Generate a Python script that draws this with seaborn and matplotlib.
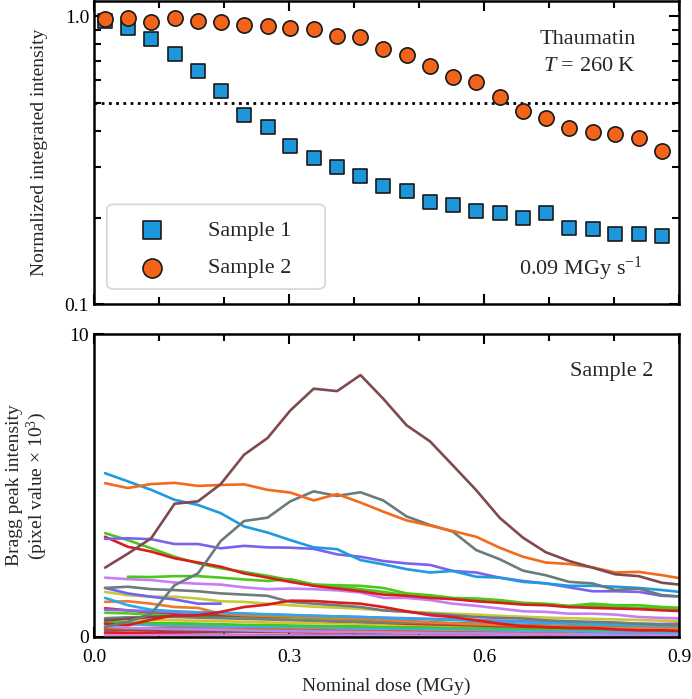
import numpy as np
import pandas as pd
import matplotlib
matplotlib.use("Agg")
import matplotlib.pyplot as plt
import seaborn as sns
from matplotlib.ticker import MultipleLocator, NullFormatter, FixedLocator
from matplotlib.patches import FancyBboxPatch

# ---------------- data ----------------
dose = [0.017, 0.052, 0.088, 0.124, 0.160, 0.195, 0.231, 0.267, 0.302, 0.338,
        0.374, 0.410, 0.445, 0.481, 0.517, 0.552, 0.588, 0.624, 0.660, 0.695,
        0.731, 0.767, 0.802, 0.838, 0.874]
dose_b = dose + [0.910]

sample1 = [0.961, 0.911, 0.833, 0.737, 0.645, 0.550, 0.454, 0.412, 0.355, 0.321,
           0.300, 0.278, 0.258, 0.247, 0.226, 0.221, 0.211, 0.207, 0.200, 0.207,
           0.184, 0.183, 0.176, 0.176, 0.172]
sample2 = [0.982, 0.987, 0.956, 0.989, 0.961, 0.956, 0.931, 0.926, 0.909, 0.904,
           0.857, 0.848, 0.769, 0.733, 0.670, 0.615, 0.591, 0.526, 0.469, 0.442,
           0.411, 0.398, 0.389, 0.377, 0.341]
half_level = 0.5

# Bragg peak intensities (pixel value x 10^3), Sample 2
peak_brown = [2.29, 2.75, 3.26, 4.40, 4.48, 5.05, 6.02, 6.57, 7.48, 8.20, 8.12, 8.65, 7.87,
              6.99, 6.46, 5.67, 4.85, 3.94, 3.28, 2.80, 2.51, 2.29, 2.07, 2.01, 1.79, 1.71]
peak_orange = [5.08, 4.92, 5.05, 5.09, 4.99, 5.02, 5.04, 4.86, 4.77, 4.51, 4.72, 4.44, 4.14,
               3.85, 3.68, 3.50, 3.31, 2.95, 2.65, 2.46, 2.41, 2.30, 2.13, 2.15, 2.04, 1.91]
peak_blue = [5.41, 5.14, 4.86, 4.53, 4.36, 4.09, 3.65, 3.45, 3.20, 2.96, 2.90, 2.54, 2.40,
             2.24, 2.13, 2.18, 1.99, 1.96, 1.82, 1.77, 1.69, 1.69, 1.66, 1.62, 1.55, 1.47]
peak_gray = [0.33, 0.50, 0.77, 1.71, 2.10, 3.17, 3.83, 3.94, 4.48, 4.81, 4.66, 4.78, 4.51,
             3.98, 3.70, 3.48, 2.87, 2.57, 2.19, 2.04, 1.82, 1.77, 1.55, 1.60, 1.38, 1.33]
peak_purple = [3.24, 3.26, 3.23, 3.07, 3.07, 2.93, 3.01, 2.96, 2.95, 2.91, 2.73, 2.65, 2.51,
               2.43, 2.38, 2.18, 2.13, 1.96, 1.85, 1.77, 1.64, 1.51, 1.51, 1.49, 1.36, 1.33]
peak_red = [3.31, 2.98, 2.82, 2.60, 2.46, 2.32, 2.10, 1.96, 1.82, 1.69, 1.60, 1.51, 1.40,
            1.36, 1.29, 1.25, 1.18, 1.13, 1.07, 1.05, 0.99, 0.96, 0.94, 0.92, 0.88, 0.85]
peak_green = [3.43, 3.20, 2.93, 2.65, 2.43, 2.27, 2.15, 2.02, 1.88, 1.73, 1.66, 1.58, 1.49,
              1.38, 1.33, 1.27, 1.22, 1.16, 1.10, 1.07, 0.99, 1.03, 0.99, 0.96, 0.94, 0.92]
peak_green2 = [None, 1.99, 1.98, 2.01, 2.01, 1.96, 1.90, 1.85, 1.91, 1.73, 1.71, 1.69, 1.62,
               1.44, 1.38, 1.29, 1.27, 1.22, 1.13, 1.10, 1.03, 1.10, 1.05, 1.05, 0.99, 0.96]
peak_violet = [1.96, 1.91, 1.88, 1.80, 1.76, 1.73, 1.64, 1.58, 1.60, 1.58, 1.54, 1.47, 1.29,
               1.29, 1.22, 1.10, 1.03, 0.94, 0.85, 0.83, 0.77, 0.77, 0.74, 0.66, 0.63, 0.61]
peak_red2 = [0.44, 0.39, 0.57, 0.72, 0.72, 0.83, 0.99, 1.07, 1.20, 1.19, 1.14, 1.10, 0.99,
             0.85, 0.72, 0.66, 0.55, 0.44, 0.36, 0.33, 0.30, 0.30, 0.25, 0.22, 0.22, 0.19]
peak_gray2 = [1.62, 1.66, 1.58, 1.55, 1.51, 1.44, 1.40, 1.36, 1.16, 1.10, 1.05, 0.99, 0.88,
              0.83, 0.77, 0.72, 0.66, 0.63, 0.61, 0.55, 0.52, 0.50, 0.48, 0.44, 0.41, 0.39]
peak_purple2 = [1.62, 1.44, 1.33, 1.24, 1.10, 1.10]
peak_olive = [1.49, 1.38, 1.33, 1.33, 1.27, 1.18, 1.16, 1.10, 1.05, 1.00, 0.97, 0.93, 0.88,
              0.84, 0.80, 0.77, 0.74, 0.70, 0.67, 0.64, 0.62, 0.60, 0.58, 0.56, 0.54, 0.52]
peak_cyan = [1.29, 1.05, 0.90, 0.85, 0.82, 0.80, 0.78, 0.75, 0.73, 0.70, 0.68, 0.66, 0.63,
             0.60, 0.58, 0.56, 0.53, 0.50, 0.48, 0.46, 0.44, 0.42, 0.40, 0.38, 0.37, 0.35]
peak_orange2 = [1.16, 1.18, 1.10, 0.99, 0.96, 0.77, 0.72, 0.70, 0.68, 0.65, 0.62, 0.60, 0.56,
                0.52, 0.48, 0.45, 0.42, 0.40, 0.38, 0.36, 0.34, 0.32, 0.30, 0.29, 0.28, 0.27]
peak_brown2 = [0.55, 0.60, 0.66, 0.70, 0.72, 0.72, 0.70, 0.68, 0.68, 0.66, 0.64, 0.60, 0.56,
               0.52, 0.48, 0.44, 0.40, 0.40, 0.38, 0.36, 0.34, 0.32, 0.30, 0.28, 0.27, 0.26]
peak_gray3 = [0.62, 0.65, 0.66, 0.66, 0.64, 0.62, 0.60, 0.58, 0.56, 0.54, 0.52, 0.50, 0.48,
              0.47, 0.46, 0.45, 0.44, 0.43]
peak_green3 = [0.80, 0.78, 0.74, 0.70, 0.67, 0.64, 0.62, 0.60, 0.62, 0.60, 0.58, 0.55, 0.52,
               0.50, 0.48, 0.46, 0.44, 0.42, 0.40, 0.38, 0.37, 0.36, 0.35, 0.34, 0.33, 0.32]
peak_teal = [0.40, 0.42, 0.45, 0.44, 0.42, 0.40, 0.38, 0.36, 0.34, 0.32, 0.30, 0.29, 0.28,
             0.27, 0.26, 0.25, 0.24, 0.23, 0.22, 0.21, 0.20, 0.19, 0.18, 0.17, 0.16, 0.15]
peak_purple3 = [0.90, 0.88, 0.85, 0.82, 0.80, 0.78, 0.76, 0.74, 0.72, 0.70, 0.68, 0.66, 0.64,
                0.62, 0.60, 0.58, 0.56, 0.54, 0.52, 0.50, 0.48, 0.46, 0.45, 0.44, 0.43, 0.42]
peak_red3 = [0.95, 0.88, 0.80, 0.75, 0.70, 0.66, 0.62, 0.60, 0.58, 0.55, 0.52, 0.50, 0.47,
             0.44, 0.42, 0.40, 0.38, 0.36, 0.34, 0.32, 0.30, 0.29, 0.28, 0.27, 0.26, 0.25]
peak_violet2 = [0.35, 0.30, 0.28, 0.26, 0.25, 0.24, 0.22, 0.20, 0.19, 0.18, 0.17, 0.16, 0.15,
                0.14, 0.13, 0.12, 0.12, 0.11, 0.10, 0.10, 0.09, 0.09, 0.08, 0.08, 0.07, 0.07]
peak_orange3 = [0.30, 0.28, 0.30, 0.32, 0.30, 0.28, 0.27, 0.26, 0.25, 0.25, 0.24, 0.22, 0.20,
                0.19, 0.18, 0.17, 0.16, 0.15, 0.14, 0.13, 0.13, 0.30, 0.28, 0.25, 0.22, 0.20]
peak_blue3 = [0.10, 0.12, 0.10, 0.09, 0.08, 0.08, 0.07, 0.07, 0.06, 0.06, 0.05, 0.05, 0.05,
              0.04, 0.04, 0.04, 0.04, 0.03, 0.03, 0.03, 0.03, 0.03, 0.02, 0.02, 0.02, 0.02]
peak_green5 = [0.50, 0.48, 0.46, 0.45, 0.44, 0.42, 0.40, 0.40, 0.38, 0.37, 0.36, 0.35, 0.34,
               0.33, 0.32, 0.31, 0.30, 0.29, 0.28, 0.27, 0.26, 0.25, 0.25, 0.24, 0.23, 0.22]
peak_gold = [0.60, 0.58, 0.56, 0.55, 0.54, 0.52, 0.50, 0.48, 0.47, 0.46, 0.45, 0.44, 0.42,
             0.41, 0.40, 0.39, 0.38, 0.37, 0.36, 0.35, 0.34, 0.34, 0.33, 0.33, 0.32, 0.32]
peak_teal2 = [0.20, 0.22, 0.25, 0.24, 0.22, 0.20, 0.20, 0.19, 0.18, 0.18, 0.17, 0.16, 0.20,
              0.22, 0.20, 0.18, 0.17, 0.16, 0.15, 0.14, 0.13, 0.12, 0.12, 0.11, 0.10, 0.10]
peak_red4 = [0.15, 0.14, 0.15, 0.16, 0.17, 0.18, 0.18, 0.17, 0.16, 0.15, 0.15, 0.14, 0.14,
             0.13, 0.13, 0.12, 0.12, 0.11, 0.11, 0.10, 0.10, 0.35, 0.40, 0.38, 0.42, 0.45]
peak_brown3 = [0.25, 0.24, 0.23, 0.22, 0.22, 0.21, 0.20, 0.20, 0.19, 0.18, 0.18, 0.17, 0.16,
               0.16, 0.15, 0.15, 0.14, 0.14, 0.13, 0.13, 0.12, 0.12, 0.11, 0.11, 0.10, 0.10]
peak_pink = [0.08, 0.07, 0.06, 0.06, 0.05, 0.05, 0.05, 0.04, 0.04, 0.04, 0.04, 0.03, 0.03,
             0.03, 0.03, 0.03, 0.02, 0.02, 0.02, 0.02, 0.02, 0.02, 0.02, 0.02, 0.02, 0.02]
peak_blue4 = [0.45, 0.42, 0.40, 0.38, 0.36, 0.35, 0.34, 0.33, 0.32, 0.31, 0.30, 0.29, 0.28,
              0.27, 0.26, 0.25, 0.24, 0.23, 0.22, 0.21, 0.20, 0.19, 0.18, 0.18, 0.17, 0.16]

peaks = {
    "blue3": (peak_blue3, "#1f8fd8"), "pink": (peak_pink, "#e87bd8"),
    "teal2": (peak_teal2, "#33e8b0"), "red4": (peak_red4, "#e31b1b"),
    "brown3": (peak_brown3, "#8a4b4f"), "orange3": (peak_orange3, "#f05a14"),
    "violet2": (peak_violet2, "#b58af0"), "teal": (peak_teal, "#3fd9c8"),
    "blue4": (peak_blue4, "#4aa8e8"), "green5": (peak_green5, "#3cc92a"),
    "gold": (peak_gold, "#d6c12a"), "red3": (peak_red3, "#d8262a"),
    "purple3": (peak_purple3, "#8a6cf2"), "green3": (peak_green3, "#55cc22"),
    "gray3": (peak_gray3, "#737f80"), "brown2": (peak_brown2, "#7d4a50"),
    "orange2": (peak_orange2, "#f07a2a"), "cyan": (peak_cyan, "#2ea8e6"),
    "olive": (peak_olive, "#c8c83a"), "purple2": (peak_purple2, "#7063ee"),
    "gray2": (peak_gray2, "#6f7c7d"), "red2": (peak_red2, "#dc1c1c"),
    "violet": (peak_violet, "#c87ef2"), "green2": (peak_green2, "#4cc81c"),
    "green": (peak_green, "#4ec41e"), "red": (peak_red, "#d81f1f"),
    "purple": (peak_purple, "#7b62ee"), "blue": (peak_blue, "#1e9be0"),
    "gray": (peak_gray, "#6b7b7c"), "orange": (peak_orange, "#f26a1b"),
    "brown": (peak_brown, "#7f4a4f"),
}

# ---------------- style ----------------
sns.set_theme(style="ticks")
plt.rcParams["font.family"] = ["Liberation Serif", "DejaVu Serif"]
plt.rcParams["mathtext.fontset"] = "custom"
plt.rcParams["mathtext.rm"] = "Liberation Serif"
plt.rcParams["mathtext.it"] = "Liberation Serif:italic"
plt.rcParams["axes.linewidth"] = 1.8
plt.rcParams["axes.edgecolor"] = "black"
for ax_ in ("xtick", "ytick"):
    plt.rcParams[f"{ax_}.direction"] = "in"
    plt.rcParams[f"{ax_}.major.size"] = 7
    plt.rcParams[f"{ax_}.minor.size"] = 5
    plt.rcParams[f"{ax_}.major.width"] = 1.5
    plt.rcParams[f"{ax_}.minor.width"] = 1.5
    plt.rcParams[f"{ax_}.labelsize"] = 14
    plt.rcParams[f"{ax_}.color"] = "black"
    plt.rcParams[f"{ax_}.labelcolor"] = "black"

fig, (ax1, ax2) = plt.subplots(2, 1, figsize=(6.92, 6.99), dpi=100)
fig.subplots_adjust(left=0.1358, right=0.9812, top=0.998, bottom=0.0887, hspace=0.099)

# ---------------- top panel ----------------
ax1.axhline(half_level, color="black", linestyle=(0, (1, 1.6)), linewidth=2.0, zorder=1)
sns.scatterplot(x=dose, y=sample1, ax=ax1, marker="s", s=105, color="#1e96dc",
                edgecolor="#1a1a1a", linewidth=1.2, label="Sample 1", zorder=3)
sns.scatterplot(x=dose, y=sample2, ax=ax1, marker="o", s=120, color="#f26419",
                edgecolor="#1a1a1a", linewidth=1.2, label="Sample 2", zorder=4)
ax1.set_yscale("log")
ax1.set_ylim(0.1, 1.127)
ax1.set_xlim(0, 0.9)
ax1.yaxis.set_major_locator(FixedLocator([0.1, 1.0]))
ax1.set_yticklabels(["0.1", "1.0"])
ax1.yaxis.set_minor_locator(FixedLocator([0.2, 0.3, 0.4, 0.5, 0.6, 0.7, 0.8, 0.9]))
ax1.yaxis.set_minor_formatter(NullFormatter())
ax1.xaxis.set_major_locator(MultipleLocator(0.3))
ax1.xaxis.set_minor_locator(MultipleLocator(0.1))
ax1.tick_params(which="both", top=True, right=True, labelbottom=False)
ax1.set_xlabel("")
ax1.set_ylabel("Normalized integrated intensity", fontsize=14, labelpad=12)
leg = ax1.legend(loc="lower left", bbox_to_anchor=(0.062, 0.085), fontsize=16,
                 frameon=False, handletextpad=1.5, borderpad=0.0,
                 labelspacing=0.75, borderaxespad=0, markerscale=1.25)
box = FancyBboxPatch((0.022, 0.05), 0.373, 0.28, transform=ax1.transAxes,
                     boxstyle="round,pad=0,rounding_size=0.015", facecolor="white",
                     edgecolor="#d3dbde", linewidth=1.3, zorder=2)
ax1.add_patch(box)
leg.set_zorder(6)
ax1.text(0.927, 0.875, "Thaumatin", transform=ax1.transAxes, ha="right",
         va="center", fontsize=16)
ax1.text(0.927, 0.785, r"$\mathit{T}$ = 260 K", transform=ax1.transAxes, ha="right",
         va="center", fontsize=16)
ax1.text(0.937, 0.115, r"0.09 MGy s$^{-1}$", transform=ax1.transAxes, ha="right",
         va="center", fontsize=16)

# ---------------- bottom panel ----------------
rows = []
for name, (vals, col) in peaks.items():
    for x, v in zip(dose_b, vals):
        if v is not None:
            rows.append({"dose": x, "intensity": v, "peak": name})
df = pd.DataFrame(rows)
palette = {name: col for name, (vals, col) in peaks.items()}
sns.lineplot(data=df, x="dose", y="intensity", hue="peak", hue_order=list(peaks.keys()),
             palette=palette, ax=ax2, legend=False, estimator=None, sort=False,
             linewidth=1.9)
ax2.set_xlim(0, 0.9)
ax2.set_ylim(0, 10)
ax2.set_yticks([0, 10])
ax2.set_xticks([0.0, 0.3, 0.6, 0.9])
ax2.set_xticklabels(["0.0", "0.3", "0.6", "0.9"])
ax2.xaxis.set_minor_locator(MultipleLocator(0.1))
ax2.tick_params(which="both", top=True, right=False)
ax2.tick_params(axis="x", pad=9)
ax2.set_xlabel("Nominal dose (MGy)", fontsize=14, labelpad=8)
ax2.set_ylabel("Bragg peak intensity\n(pixel value \u00d7 10$^3$)", fontsize=14,
               linespacing=1.1, labelpad=15)
ax2.text(0.956, 0.878, "Sample 2", transform=ax2.transAxes, ha="right",
         va="center", fontsize=16)

fig.savefig("out.png", dpi=100)
